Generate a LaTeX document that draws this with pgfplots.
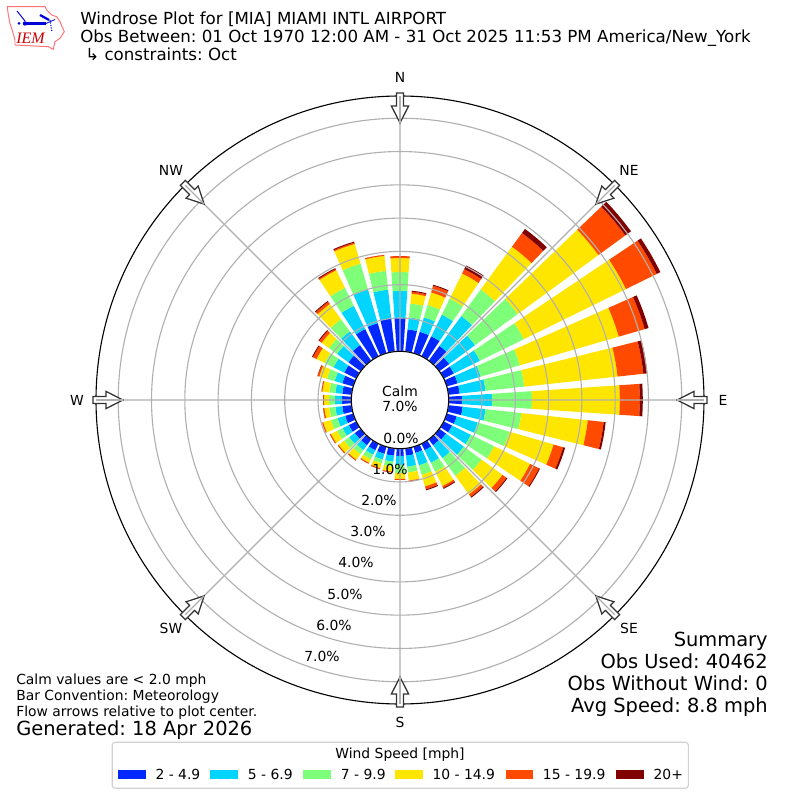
\documentclass[border=0pt]{standalone}
\usepackage{fontspec}
\setmainfont{DejaVu Sans}
\newfontfamily\iemfont{Liberation Serif}
\usepackage{pgfplots}
\pgfplotsset{compat=1.18}
\usepgfplotslibrary{polar}
\frenchspacing
\definecolor{bA}{RGB}{0,40,255}
\definecolor{bB}{RGB}{0,212,255}
\definecolor{bC}{RGB}{125,255,122}
\definecolor{bD}{RGB}{255,230,0}
\definecolor{bE}{RGB}{255,74,0}
\definecolor{bF}{RGB}{128,0,0}
\definecolor{gridg}{RGB}{176,176,176}
\def\Rz{1.4625}
\newcommand{\seg}[4]{%
  \pgfmathsetmacro\ra{#2+\Rz}\pgfmathsetmacro\rb{#3+\Rz}%
  \pgfmathsetmacro\tA{450-#1-3.85}\pgfmathsetmacro\tB{450-#1-1.9}\pgfmathsetmacro\tC{450-#1}%
  \pgfmathsetmacro\tD{450-#1+1.9}\pgfmathsetmacro\tE{450-#1+3.85}%
  \edef\tmp{\noexpand\addplot[forget plot,fill=#4,draw=none] coordinates {(\tA,\ra)(\tB,\ra)(\tC,\ra)(\tD,\ra)(\tE,\ra)(\tE,\rb)(\tD,\rb)(\tC,\rb)(\tB,\rb)(\tA,\rb)};}\tmp}
% bearing, then the cumulative percentage at the top of each speed bin
\newcommand{\wbar}[7]{\seg{#1}{0}{#2}{bA}\seg{#1}{#2}{#3}{bB}\seg{#1}{#3}{#4}{bC}\seg{#1}{#4}{#5}{bD}\seg{#1}{#5}{#6}{bE}\seg{#1}{#6}{#7}{bF}}
\begin{document}
\begin{tikzpicture}
\useasboundingbox (0,0) rectangle (576pt,576pt);
\fill[white] (0,0) rectangle (576pt,576pt);
\begin{polaraxis}[
  at={(288pt,288pt)},anchor=center,
  scale only axis,width=437.76pt,height=437.76pt,
  ymin=0,ymax=9.13,xmin=0,xmax=360,
  xtick={0,45,...,315},
  ytick={1.4625,2.4625,3.4625,4.4625,5.4625,6.4625,7.4625,8.4625},
  xticklabels={},yticklabels={},
  major tick length=0pt,
  xmajorgrids,ymajorgrids,
  major grid style={draw=gridg,line width=0.8pt},
  axis on top,
  y axis line style={draw=none},
  x axis line style={black,line width=0.8pt},
  clip=false,
]
\wbar{0}{1.00}{1.81}{2.38}{2.80}{2.86}{2.86}
\wbar{10}{.67}{1.03}{1.45}{1.75}{1.81}{1.84}
\wbar{20}{.67}{1.12}{1.51}{1.90}{2.11}{2.14}
\wbar{30}{.67}{1.39}{1.93}{2.77}{2.92}{3.04}
\wbar{40}{.55}{1.66}{2.65}{4.24}{4.75}{4.90}
\wbar{50}{.37}{1.33}{2.92}{5.92}{6.92}{7.13}
\wbar{60}{.34}{1.21}{2.68}{6.10}{7.13}{7.25}
\wbar{70}{.34}{1.06}{2.29}{5.38}{6.19}{6.31}
\wbar{80}{.34}{1.12}{2.29}{5.11}{5.89}{6.01}
\wbar{90}{.40}{1.30}{2.50}{5.14}{5.74}{5.83}
\wbar{100}{.43}{1.12}{2.20}{4.21}{4.69}{4.75}
\wbar{110}{.31}{.97}{1.96}{3.34}{3.64}{3.70}
\wbar{120}{.28}{.91}{1.69}{2.89}{3.19}{3.22}
\wbar{130}{.25}{.91}{1.57}{2.35}{2.50}{2.53}
\wbar{140}{.22}{.70}{1.36}{2.05}{2.14}{2.17}
\wbar{150}{.22}{.64}{.94}{1.42}{1.48}{1.51}
\wbar{160}{.19}{.58}{.88}{1.24}{1.33}{1.36}
\wbar{170}{.22}{.55}{.73}{.97}{1.00}{1.00}
\wbar{180}{.22}{.49}{.73}{.91}{.94}{.94}
\wbar{190}{.22}{.40}{.55}{.70}{.73}{.73}
\wbar{200}{.22}{.40}{.52}{.67}{.70}{.70}
\wbar{210}{.22}{.37}{.52}{.64}{.67}{.67}
\wbar{220}{.22}{.40}{.55}{.76}{.79}{.79}
\wbar{230}{.22}{.43}{.61}{.82}{.85}{.85}
\wbar{240}{.25}{.46}{.64}{.85}{.88}{.88}
\wbar{250}{.25}{.49}{.70}{.94}{.97}{.97}
\wbar{260}{.28}{.49}{.67}{.82}{.86}{.86}
\wbar{270}{.28}{.49}{.67}{.82}{.85}{.85}
\wbar{280}{.28}{.49}{.67}{.88}{.91}{.91}
\wbar{290}{.34}{.58}{.82}{1.06}{1.11}{1.12}
\wbar{300}{.40}{.76}{1.06}{1.33}{1.45}{1.48}
\wbar{310}{.46}{.88}{1.18}{1.45}{1.54}{1.57}
\wbar{320}{.58}{1.09}{1.54}{2.11}{2.19}{2.22}
\wbar{330}{.91}{1.69}{2.29}{2.88}{2.92}{2.95}
\wbar{340}{.94}{1.99}{2.80}{3.42}{3.46}{3.49}
\wbar{350}{1.00}{1.87}{2.44}{2.89}{2.92}{2.92}
\end{polaraxis}
\begin{scope}[x=0.72pt,y=-0.72pt,shift={(0pt,576pt)}]
  % centre hole
  \fill[white,draw=black,line width=0.8pt] (400,400) circle (48.7);
  % direction arrows
  \foreach \a in {0,45,...,315}{
    \begin{scope}[shift={(400,400)},rotate=\a]
      \draw[fill=white,draw=black!80,line width=0.9pt,line join=miter]
        (-3.6,-307)--(3.6,-307)--(3.6,-294)--(8.6,-294)--(0,-277)--(-8.6,-294)--(-3.6,-294)--cycle;
      \draw[gridg,line width=0.8pt] (0,-304)--(0,-277);
    \end{scope}
  }
  % labels
  \newcommand{\fs}[1]{\fontsize{#1}{#1}\selectfont}
  \foreach \x/\y/\t in {400/77/N,629/170/NE,723/400/E,629/628/SE,400/722/S,171/628/SW,77/400/W,171/170/NW}
    \node[font=\fs{10}] at (\x,\y) {\t};
  \foreach \x/\y/\t in {401/438/0.0,390/469/1.0,379/500/2.0,368/531/3.0,356/562/4.0,345/594/5.0,334/625/6.0,322/656/7.0}
    \node[font=\fs{10}] at (\x,\y) {\t\%};
  \node[font=\fs{10},align=center] at (400,399) {Calm\\[1pt]7.0\%};
  % titles
  \node[font=\fs{12},anchor=base west,inner sep=0pt] at (80,25) {Windrose Plot for [MIA] MIAMI INTL AIRPORT};
  \node[font=\fs{12},anchor=base west,inner sep=0pt] at (80,43) {Obs Between: 01 Oct 1970 12:00 AM - 31 Oct 2025 11:53 PM America/New\_York};
  \node[font=\fs{12},anchor=base west,inner sep=0pt] at (85,61) {↳ constraints: Oct};
  % summary
  \foreach \y/\t in {646/Summary,668/Obs Used: 40462,690/Obs Without Wind: 0,712/Avg Speed: 8.8 mph}
    \node[font=\fs{14},anchor=base east,inner sep=0pt] at (768,\y) {\t};
  % notes
  \foreach \y/\t in {684/{Calm values are < 2.0 mph},701/Bar Convention: Meteorology,717/Flow arrows relative to plot center.}
    \node[font=\fs{10},anchor=base west,inner sep=0pt] at (16,\y) {\t};
  \node[font=\fs{14},anchor=base west,inner sep=0pt] at (16,736) {Generated: 18 Apr 2026};
  % legend
  \draw[rounded corners=2pt,draw=black!18,line width=0.8pt,fill=white] (112.3,742.3) rectangle (688.3,788.3);
  \node[font=\fs{10},anchor=base,inner sep=0pt] at (400,758) {Wind Speed [mph]};
  \foreach \xa/\xb/\xt/\c/\t in {118/146/155.3/bA/2 - 4.9,210/238/247.7/bB/5 - 6.9,303/331/340.7/bC/7 - 9.9,395/423/432.3/bD/10 - 14.9,506/533/542.7/bE/15 - 19.9,616/644/653.3/bF/20+}{
    \fill[\c] (\xa,770) rectangle (\xb,779);
    \node[font=\fs{10},anchor=base west,inner sep=0pt] at (\xt,779) {\t};
  }
  % logo
  \draw[red!55!white,line width=0.7pt,fill=white] (7.3,6.7)--(45,6.7)--(46.7,10)--(51.7,15)--(56.7,16.7)--(60,21.7)--(64.3,31.7)--(60,38.3)--(55,41.7)--(53.3,49.3)--(48.3,46.7)--(15,45)--(15,40)--(12.7,31.7)--(10,23.3)--(8.3,15)--cycle;
  \draw[blue!85!black,line width=1.6pt] (25,23.5)--(46,23.5);
  \draw[blue!85!black,line width=0.6pt] (46,23.5)--(55,19.5);
  \draw[blue!85!black,line width=0.7pt] (17,11)--(25,21);
  \draw[blue!85!black,line width=1.6pt] (40,15)--(49,20);
  \draw[blue!85!black,line width=0.8pt,densely dotted] (50,20)--(52,32);
  \fill[blue!85!black] (25,23.5) circle (2.2);
  \fill[blue!85!black] (19,23.5) circle (1.5);
  \node[font=\iemfont\itshape\fs{11.5},text=red!80!black,inner sep=0pt] at (30.5,38) {IEM};
\end{scope}
\end{tikzpicture}
\end{document}
